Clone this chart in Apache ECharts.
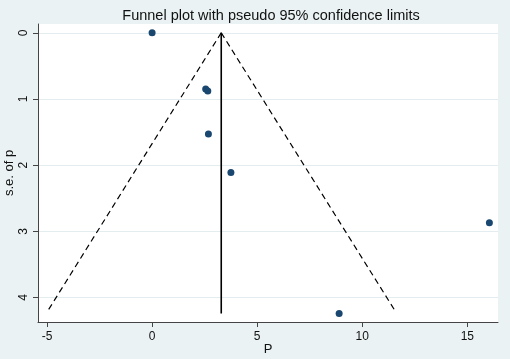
<!DOCTYPE html>
<html><head><meta charset="utf-8">
<script src="https://cdn.jsdelivr.net/npm/echarts@6/dist/echarts.min.js"></script>
<style>html,body{margin:0;padding:0;background:#eaf2f3}#c{width:510px;height:359px}</style>
</head><body><div id="c"></div>
<script>
const studyP  = [0.0, 2.55, 2.65, 2.68, 3.75, 16.05, 8.9];
const studySE = [0.0, 0.85, 0.88, 1.53, 2.11, 2.87, 4.24];
const pooledLine = [[3.29, 0], [3.29, 4.24]];
const lowerLimit = [[3.29, 0], [-5.0, 4.22]];
const upperLimit = [[3.29, 0], [11.6, 4.22]];
const xTicks = [-5, 0, 5, 10, 15];
const yTicks = [0, 1, 2, 3, 4];

const font = 'Liberation Sans, Arial, sans-serif';
const chart = echarts.init(document.getElementById('c'));
chart.setOption({
  backgroundColor: '#eaf2f3',
  animation: false,
  title: {text: 'Funnel plot with pseudo 95% confidence limits', left: 266, textAlign: 'center', top: 3,
    textStyle: {fontFamily: font, fontSize: 14.5, fontWeight: 'normal', color: '#111'}},
  grid: {left: 38, right: 12, top: 24, bottom: 37, show: true, backgroundColor: '#fff', borderWidth: 0,
    containLabel: false, outerBoundsMode: 'none'},
  xAxis: {type: 'value', min: -5.43, max: 16.46,
    name: 'P', nameLocation: 'middle', nameGap: 21, nameMoveOverlap: false,
    nameTextStyle: {fontFamily: font, fontSize: 13, color: '#111'},
    axisLine: {show: true, onZero: false, lineStyle: {color: '#444', width: 1}},
    axisTick: {show: true, length: 5, customValues: xTicks, lineStyle: {color: '#444'}},
    axisLabel: {customValues: xTicks, fontFamily: font, fontSize: 12, color: '#111', margin: 9},
    splitLine: {show: false}},
  yAxis: {type: 'value', inverse: true, min: -0.133, max: 4.37,
    name: 's.e. of p', nameLocation: 'middle', nameGap: 22, nameMoveOverlap: false,
    nameTextStyle: {fontFamily: font, fontSize: 13, color: '#111'},
    axisLine: {show: true, onZero: false, lineStyle: {color: '#444', width: 1}},
    axisTick: {show: true, length: 5, customValues: yTicks, lineStyle: {color: '#444'}},
    axisLabel: {customValues: yTicks, rotate: 90, fontFamily: font, fontSize: 12, color: '#111', margin: 8},
    splitLine: {show: true, customValues: yTicks, lineStyle: {color: '#e3ecef', width: 1}}},
  series: [
    {type: 'line', data: lowerLimit, symbol: 'none', lineStyle: {color: '#000', width: 1.2, type: [6, 4]}},
    {type: 'line', data: upperLimit, symbol: 'none', lineStyle: {color: '#000', width: 1.2, type: [6, 4]}},
    {type: 'line', data: pooledLine, symbol: 'none', lineStyle: {color: '#000', width: 1.6}},
    {type: 'scatter', data: studyP.map((p, i) => [p, studySE[i]]), symbolSize: 7,
      itemStyle: {color: '#1a476f', opacity: 1}}
  ]
});
</script></body></html>
